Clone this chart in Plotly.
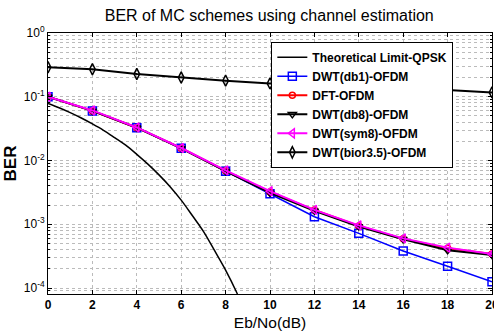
import plotly.graph_objects as go

ebno = [0, 2, 4, 6, 8, 10, 12, 14, 16, 18, 20]
theory_x = [0, 0.5, 1, 1.5, 2, 2.5, 3, 3.5, 4, 4.5, 5, 5.5, 6, 6.5, 7, 7.5, 8, 8.5, 9]
theory_y = [0.0786, 0.0671, 0.0563, 0.0464, 0.0375, 0.0298, 0.0229, 0.0174, 0.0125,
            0.00877, 0.00595, 0.00389, 0.00239, 0.00137, 0.000773, 0.000388,
            0.000191, 0.000085, 0.0000336]
db1 = [0.1, 0.06, 0.0327, 0.0155, 0.0068, 0.0030, 0.00131, 0.00072, 0.00038, 0.00022, 0.000125]
dft = [0.1, 0.06, 0.0327, 0.0156, 0.0069, 0.0032, 0.00167, 0.00094, 0.00059, 0.00042, 0.00034]
db8 = [0.1, 0.06, 0.0327, 0.0155, 0.0068, 0.0031, 0.00163, 0.00092, 0.00058, 0.00039, 0.00033]
sym8 = [0.1, 0.061, 0.0330, 0.0157, 0.0070, 0.0033, 0.00168, 0.00096, 0.00060, 0.00043, 0.00034]
bior = [0.29, 0.27, 0.227, 0.20, 0.179, 0.162, 0.15, 0.14, 0.134, 0.128, 0.117]

names = ["Theoretical Limit-QPSK", "DWT(db1)-OFDM", "DFT-OFDM", "DWT(db8)-OFDM",
         "DWT(sym8)-OFDM", "DWT(bior3.5)-OFDM"]
ytickvals = [1e-4, 1e-3, 1e-2, 1e-1, 1]
yticktext = ["10<sup>-4</sup>", "10<sup>-3</sup>", "10<sup>-2</sup>", "10<sup>-1</sup>", "10<sup>0</sup>"]

fig = go.Figure()
fig.add_trace(go.Scatter(x=theory_x, y=theory_y, name=names[0], mode="lines",
                         line=dict(color="black", width=1.5, shape="spline")))
fig.add_trace(go.Scatter(x=ebno, y=db1, name=names[1], mode="lines+markers",
                         line=dict(color="#0000ff", width=1.5),
                         marker=dict(symbol="square-open", size=8, color="#0000ff", line=dict(width=1.5))))
fig.add_trace(go.Scatter(x=ebno, y=dft, name=names[2], mode="lines+markers",
                         line=dict(color="#ff0000", width=2),
                         marker=dict(symbol="circle-open", size=6, color="#ff0000", line=dict(width=1.5))))
fig.add_trace(go.Scatter(x=ebno, y=db8, name=names[3], mode="lines+markers",
                         line=dict(color="black", width=2),
                         marker=dict(symbol="triangle-down-open", size=7, color="black", line=dict(width=1.5))))
fig.add_trace(go.Scatter(x=ebno, y=sym8, name=names[4], mode="lines+markers",
                         line=dict(color="#ff00ff", width=2),
                         marker=dict(symbol="triangle-left-open", size=8, color="#ff00ff", line=dict(width=1.5))))
fig.add_trace(go.Scatter(x=ebno, y=bior, name=names[5], mode="lines+markers",
                         line=dict(color="black", width=2),
                         marker=dict(symbol="diamond-tall-open", size=8, color="black", line=dict(width=1.5))))

fig.update_layout(
    width=494, height=333,
    margin=dict(l=48, r=2, t=33, b=39),
    paper_bgcolor="white", plot_bgcolor="white",
    font=dict(family="Liberation Sans, Arial", color="black"),
    title=dict(text="BER of MC schemes using channel estimation", x=0.545, xanchor="center",
               y=0.955, yanchor="middle", font=dict(size=16, color="black")),
    legend=dict(x=0.503, y=0.966, xanchor="left", yanchor="top",
                bgcolor="white", bordercolor="black", borderwidth=1,
                font=dict(size=12, family="Liberation Sans, Arial", weight="bold"),
                tracegroupgap=0, itemwidth=30),
    showlegend=True,
)
fig.update_xaxes(range=[0, 20], tickvals=list(range(0, 21, 2)),
                 showline=True, linecolor="black", linewidth=1, mirror="ticks",
                 ticks="inside", ticklen=4, tickcolor="black",
                 showgrid=True, gridcolor="#bbbbbb", griddash="dot", gridwidth=1,
                 zeroline=False, ticklabeloverflow="allow", automargin=False,
                 tickfont=dict(size=12, weight="bold"),
                 title=dict(text="Eb/No(dB)", font=dict(size=15.5), standoff=5))
fig.update_yaxes(type="log", range=[-4.094, 0], tickvals=ytickvals, ticktext=yticktext,
                 showline=True, linecolor="black", linewidth=1, mirror="ticks",
                 ticks="inside", ticklen=4, tickcolor="black",
                 showgrid=True, gridcolor="#bbbbbb", griddash="dot", gridwidth=1,
                 minor=dict(showgrid=True, gridcolor="#bbbbbb", griddash="dot", gridwidth=1,
                            ticks="inside", ticklen=2, tickcolor="black",
                            tickvals=[m * 10 ** e for e in range(-5, 0) for m in range(2, 10)]),
                 zeroline=False, automargin=False,
                 tickfont=dict(size=12),
                 title=dict(text="BER", font=dict(size=17, weight="bold"), standoff=2))

fig.write_html("out.html")
